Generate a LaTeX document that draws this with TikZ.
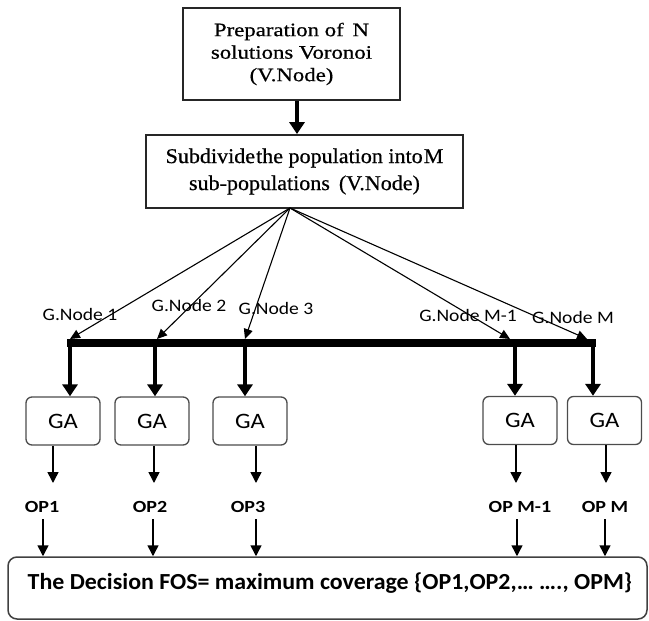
\documentclass[tikz,border=0pt]{standalone}
\usepackage{fontspec}
\setmainfont{Liberation Serif}
\newfontfamily\serifA[FakeStretch=1.2,FakeBold=0.6]{Liberation Serif}
\newfontfamily\serifB[FakeStretch=1.05,FakeBold=0.6]{Liberation Serif}
\newfontfamily\calfont{Carlito}
\newfontfamily\calwide[FakeStretch=1.12]{Carlito}
\newfontfamily\calop[FakeStretch=1.18]{Carlito}
\newfontfamily\calfin[FakeStretch=1.04]{Carlito}
\usetikzlibrary{arrows.meta}
\tikzset{
  vbox/.style={draw=black!85, line width=1.8pt, align=center, inner sep=0pt},
  gabox/.style={draw=black!70, line width=1.3pt, rounded corners=6pt, minimum width=74pt, minimum height=48pt, inner sep=0pt, font=\calwide\fontsize{22}{24}\selectfont},
  glabel/.style={inner sep=0pt, font=\calwide\fontsize{17.5}{20}\selectfont},
  oplabel/.style={inner sep=0pt, font=\calop\bfseries\fontsize{17}{20}\selectfont},
  fanarrow/.style={line width=1.1pt, -{Triangle[length=10pt,width=9pt]}},
  droparrow/.style={line width=3.8pt, -{Triangle[length=12pt,width=15pt]}},
  thinarrow/.style={line width=1.5pt, -{Triangle[length=11pt,width=11pt]}},
  bus/.style={line width=8.5pt}
}
\begin{document}
\begin{tikzpicture}[x=1pt,y=-1pt]
\useasboundingbox (0,0) rectangle (649,621);
% top boxes
\node[vbox, minimum width=217pt, minimum height=92pt, font=\serifA\fontsize{19}{22.5}\selectfont] (prep) at (291.5,54) {Preparation of\, N\\solutions Voronoi\\(V.Node)};
\node[vbox, minimum width=317pt, minimum height=73pt, font=\serifB\fontsize{21}{27}\selectfont] (sub) at (304.5,171.5) {Subdivide\hspace{0.05em}the population into\hspace{0.05em}M\\sub-populations\, (V.Node)};
\coordinate (a1) at (297,100);
\draw[droparrow] (prep.south -| a1) -- (sub.north -| a1);
% fan
\coordinate (fan) at (290,208);
\coordinate (g1) at (70,339);
\coordinate (g2) at (157,339);
\coordinate (g3) at (245,339);
\coordinate (g4) at (510,339);
\coordinate (g5) at (587,339);
\foreach \i in {1,...,5} \draw[fanarrow] (fan) -- (g\i);
% labels
\node[glabel] (l1) at (80,314) {G.Node 1};
\node[glabel] (l2) at (189,305) {G.Node 2};
\node[glabel] (l3) at (276,308) {G.Node 3};
\node[glabel] (l4) at (468,315) {G.Node M-1};
\node[glabel] (l5) at (573,317) {G.Node M};
% bus
\coordinate (bl) at (67,343);
\coordinate (br) at (596,343);
\draw[bus] (bl) -- (br);
% GA boxes
\node[gabox] (ga1) at (63,421) {GA};
\node[gabox] (ga2) at (152,421) {GA};
\node[gabox] (ga3) at (250,421) {GA};
\node[gabox] (ga4) at (520,420.5) {GA};
\node[gabox] (ga5) at (604.5,420.5) {GA};
\coordinate (d1) at (70,339);
\coordinate (d2) at (155,339);
\coordinate (d3) at (245,339);
\coordinate (d4) at (515,339);
\coordinate (d5) at (593,339);
\foreach \i in {1,...,5} \draw[droparrow] (d\i) -- (d\i |- ga\i.north);
% OP labels
\node[oplabel] (op1) at (42,507) {OP1};
\node[oplabel] (op2) at (150,507) {OP2};
\node[oplabel] (op3) at (248,507) {OP3};
\node[oplabel] (op4) at (520,507) {OP M-1};
\node[oplabel] (op5) at (605,507) {OP M};
\coordinate (t1) at (53,483);
\coordinate (t2) at (154,483);
\coordinate (t3) at (256,483);
\coordinate (t4) at (516,483);
\coordinate (t5) at (606,483);
\foreach \i in {1,...,5} \draw[thinarrow] (ga\i.south -| t\i) -- (t\i);
% final box
\node[draw=black!75, line width=1.5pt, rounded corners=9pt, minimum width=639pt, minimum height=62pt, inner sep=0pt] (fin) at (327.5,588) {};
\node[inner sep=0pt, font=\calfin\bfseries\fontsize{23}{26}\selectfont] (fintext) at (330,583) {The Decision FOS= maximum coverage \{OP1,OP2,\dots\ \dots., OPM\}};
\coordinate (b1) at (43,519);
\coordinate (b2) at (153,519);
\coordinate (b3) at (256,519);
\coordinate (b4) at (517,519);
\coordinate (b5) at (605,519);
\foreach \i in {1,...,5} \draw[thinarrow] (b\i) -- (b\i |- fin.north);
\end{tikzpicture}
\end{document}
